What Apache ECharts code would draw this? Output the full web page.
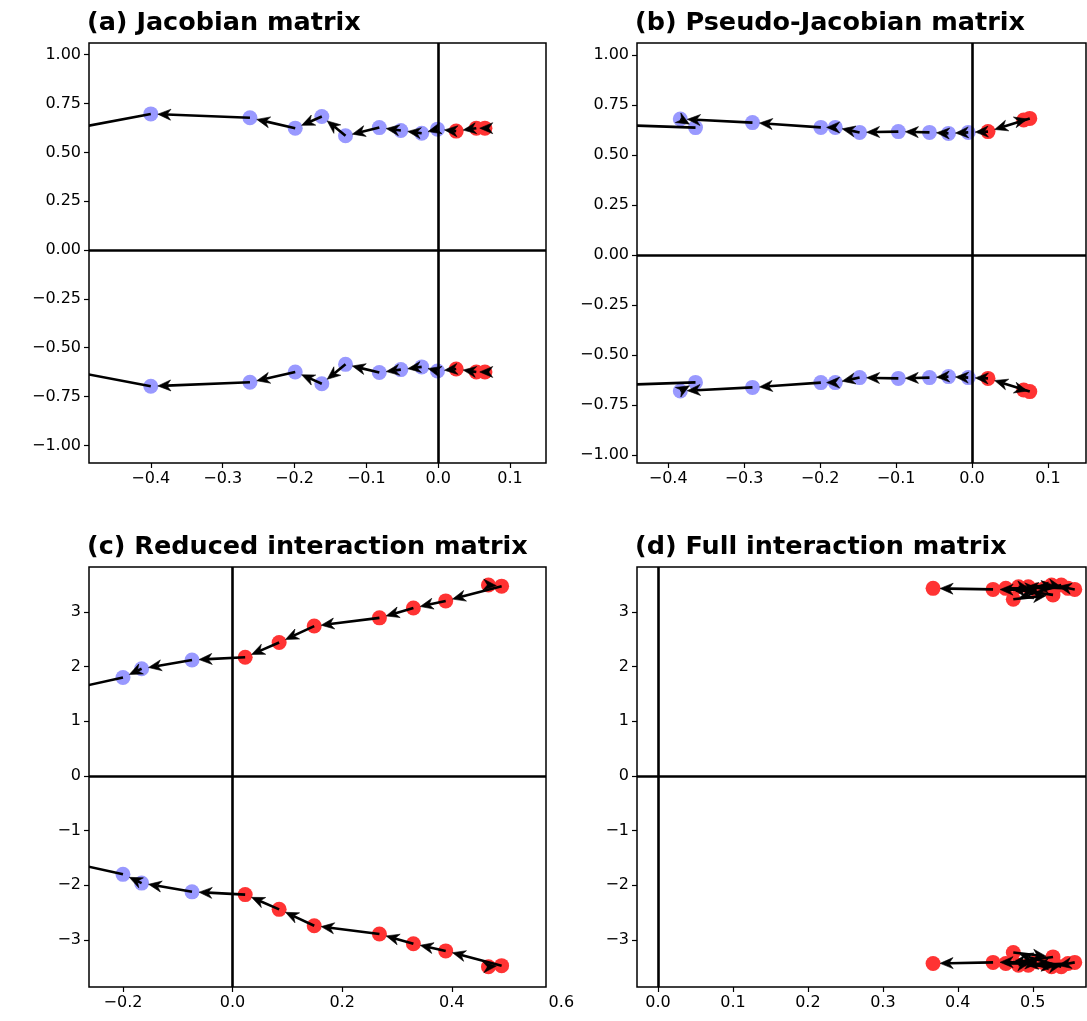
<!DOCTYPE html>
<html>
<head>
<meta charset="utf-8">
<script src="https://cdn.jsdelivr.net/npm/echarts@6/dist/echarts.min.js"></script>
<style>
  html, body { margin: 0; background: #fff; }
  #chart { width: 1087px; height: 1021px; }
</style>
</head>
<body>
<div id="chart"></div>
<script>
// eigenvalue paths (real part, positive imaginary part); the conjugates are mirrored
const aRe = [0.065, 0.053, 0.025, -0.001, -0.023, -0.052, -0.082, -0.129, -0.162, -0.199, -0.262, -0.400, -0.560];
const aIm = [0.624, 0.624, 0.609, 0.619, 0.598, 0.612, 0.627, 0.585, 0.684, 0.624, 0.677, 0.697, 0.585];

const bRe = [0.068, 0.076, 0.021, -0.005, -0.031, -0.056, -0.097, -0.148, -0.180, -0.199, -0.289, -0.384, -0.364, -0.520];
const bIm = [0.675, 0.683, 0.617, 0.613, 0.608, 0.613, 0.617, 0.613, 0.638, 0.638, 0.662, 0.680, 0.637, 0.657];

const cRe = [0.467, 0.491, 0.389, 0.330, 0.268, 0.149, 0.085, 0.023, -0.074, -0.166, -0.200, -0.330];
const cIm = [3.49, 3.47, 3.20, 3.07, 2.89, 2.74, 2.44, 2.17, 2.12, 1.96, 1.80, 1.51];

const dRe = [0.556, 0.525, 0.547, 0.494, 0.538, 0.474, 0.527, 0.464, 0.516, 0.481, 0.505, 0.447, 0.367];
const dIm = [3.41, 3.49, 3.43, 3.46, 3.49, 3.23, 3.31, 3.43, 3.43, 3.46, 3.40, 3.41, 3.43];

const titles = ['(a) Jacobian matrix', '(b) Pseudo-Jacobian matrix', '(c) Reduced interaction matrix', '(d) Full interaction matrix'];

const xTicksAB = [-0.4, -0.3, -0.2, -0.1, 0.0, 0.1];
const xTicksC = [-0.2, 0.0, 0.2, 0.4];
const xTicksCExtra = [0.6];
const xTicksD = [0.0, 0.1, 0.2, 0.3, 0.4, 0.5];
const yTicksAB = [-1.0, -0.75, -0.5, -0.25, 0.0, 0.25, 0.5, 0.75, 1.0];
const yTicksCD = [-3, -2, -1, 0, 1, 2, 3];

const BLUE = '#9999ff';
const RED = '#ff3333';
const FONT = 'DejaVu Sans';

const panels = [
  { re: aRe, im: aIm, grid: { left: 89, top: 43, width: 457, height: 420 },
    x: [-0.486, 0.150], y: [-1.09, 1.06], xt: xTicksAB, yt: yTicksAB, xd: 1, yd: 2 },
  { re: bRe, im: bIm, grid: { left: 637, top: 43, width: 449, height: 420 },
    x: [-0.441, 0.150], y: [-1.04, 1.06], xt: xTicksAB, yt: yTicksAB, xd: 1, yd: 2 },
  { re: cRe, im: cIm, grid: { left: 89, top: 567, width: 457, height: 420 },
    x: [-0.262, 0.572], y: [-3.86, 3.82], xt: xTicksC, yt: yTicksCD, xd: 1, yd: 0 },
  { re: dRe, im: dIm, grid: { left: 637, top: 567, width: 449, height: 420 },
    x: [-0.028, 0.571], y: [-3.86, 3.82], xt: xTicksD, yt: yTicksCD, xd: 1, yd: 0 }
];

function fmt(v, d) {
  const s = v.toFixed(d);
  return (parseFloat(s) < 0 ? '\u2212' + s.slice(1) : s.replace('-', ''));
}

function arrowItem(params, api) {
  const p1 = api.coord([api.value(0), api.value(1)]);
  const p2 = api.coord([api.value(2), api.value(3)]);
  const dx = p2[0] - p1[0], dy = p2[1] - p1[1];
  const len = Math.hypot(dx, dy) || 1;
  const ux = dx / len, uy = dy / len;
  const shrink = Math.min(7, len * 0.4);
  const tip = [p2[0] - ux * shrink, p2[1] - uy * shrink];
  const L = 13, W = 5.5, notch = 9;
  const back = [tip[0] - ux * L, tip[1] - uy * L];
  const left = [back[0] - uy * W, back[1] + ux * W];
  const right = [back[0] + uy * W, back[1] - ux * W];
  const mid = [tip[0] - ux * notch, tip[1] - uy * notch];
  return {
    type: 'group',
    children: [
      { type: 'line', shape: { x1: p1[0], y1: p1[1], x2: mid[0], y2: mid[1] },
        style: { stroke: '#000', lineWidth: 2.6 } },
      { type: 'polygon', shape: { points: [tip, left, mid, right] },
        style: { fill: '#000', stroke: '#000', lineWidth: 0.6 } }
    ]
  };
}

const option = {
  animation: false,
  backgroundColor: '#fff',
  title: [], grid: [], xAxis: [], yAxis: [], series: []
};

function tickStyle(vals) {
  return { show: true, inside: false, length: 5, lineStyle: { color: '#000', width: 1.2 }, customValues: vals };
}
function labelStyle(vals, d) {
  return { customValues: vals, color: '#000', fontFamily: FONT, fontSize: 16, margin: 8,
    showMinLabel: true, showMaxLabel: true, formatter: v => fmt(v, d) };
}

panels.forEach((p, i) => {
  option.title.push({
    text: titles[i], left: p.grid.left - 2, top: i < 2 ? 10 : 534, padding: 0,
    textStyle: { fontFamily: FONT, fontWeight: 'bold', fontSize: 25.5, color: '#000' }
  });
  option.grid.push(Object.assign({ show: true, borderColor: '#000', borderWidth: 1.5, backgroundColor: 'transparent' }, p.grid));
  option.xAxis.push({
    type: 'value', gridIndex: i, min: p.x[0], max: p.x[1], position: 'bottom',
    axisLine: { show: false, onZero: false }, splitLine: { show: false },
    axisTick: tickStyle(p.xt), axisLabel: labelStyle(p.xt, p.xd)
  });
  option.yAxis.push({
    type: 'value', gridIndex: i, min: p.y[0], max: p.y[1], position: 'left',
    axisLine: { show: false, onZero: false }, splitLine: { show: false },
    axisTick: tickStyle(p.yt), axisLabel: labelStyle(p.yt, p.yd)
  });

  const pts = [];
  const segs = [];
  [1, -1].forEach(sign => {
    p.re.forEach((r, k) => {
      pts.push({ value: [r, sign * p.im[k]], itemStyle: { color: r > 0 ? RED : BLUE, opacity: 1 } });
      if (k > 0) segs.push([p.re[k - 1], sign * p.im[k - 1], r, sign * p.im[k]]);
    });
  });

  option.series.push({
    type: 'scatter', xAxisIndex: i, yAxisIndex: i, z: 2, clip: true,
    symbolSize: 15, data: pts, silent: true, itemStyle: { opacity: 1 }
  });
  option.series.push({
    type: 'custom', xAxisIndex: i, yAxisIndex: i, z: 4, clip: true,
    renderItem: arrowItem, data: segs, silent: true,
    encode: { x: [0, 2], y: [1, 3] },
    markLine: {
      silent: true, symbol: ['none', 'none'], label: { show: false },
      lineStyle: { color: '#000', width: 2.6, type: 'solid' },
      data: [{ xAxis: 0 }, { yAxis: 0 }]
    }
  });
});

// panel (c) shows its 0.6 tick label just past the right frame: a hidden
// extension of the same x scale carries it
const pc = panels[2];
const cMaxExt = 0.6;
const extWidth = (cMaxExt - pc.x[0]) / (pc.x[1] - pc.x[0]) * pc.grid.width;
option.grid.push({ left: pc.grid.left, top: pc.grid.top, width: extWidth, height: pc.grid.height, show: false });
option.xAxis.push({
  type: 'value', gridIndex: 4, min: pc.x[0], max: cMaxExt, position: 'bottom',
  axisLine: { show: false, onZero: false }, splitLine: { show: false }, axisTick: { show: false },
  axisLabel: labelStyle(xTicksCExtra, 1)
});
option.yAxis.push({
  type: 'value', gridIndex: 4, min: pc.y[0], max: pc.y[1], show: false
});

const chart = echarts.init(document.getElementById('chart'), null, { renderer: 'canvas' });
chart.setOption(option);
</script>
</body>
</html>
